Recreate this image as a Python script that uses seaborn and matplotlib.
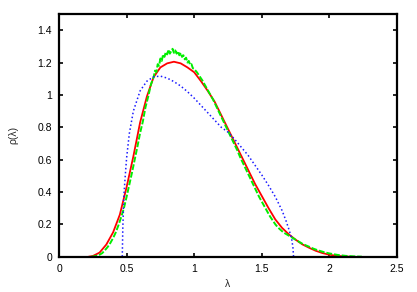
import numpy as np
import pandas as pd
import matplotlib
matplotlib.use("Agg")
import matplotlib.pyplot as plt
import seaborn as sns

# ---- data ----
red_x = [0.22, 0.25, 0.30, 0.35, 0.40, 0.45, 0.50, 0.55, 0.60, 0.65, 0.70, 0.75,
         0.80, 0.85, 0.90, 0.95, 1.00, 1.05, 1.10, 1.15, 1.20, 1.25, 1.30, 1.35,
         1.40, 1.45, 1.50, 1.55, 1.60, 1.65, 1.70, 1.75, 1.80, 1.85, 1.90, 1.95,
         2.00, 2.05, 2.10, 2.15]
red_y = [0.0, 0.004, 0.025, 0.075, 0.15, 0.26, 0.43, 0.62, 0.83, 0.99, 1.11, 1.17,
         1.195, 1.205, 1.195, 1.17, 1.14, 1.085, 1.025, 0.96, 0.875, 0.79, 0.705, 0.62,
         0.535, 0.45, 0.375, 0.30, 0.23, 0.178, 0.138, 0.105, 0.076, 0.055, 0.036, 0.022,
         0.012, 0.006, 0.002, 0.0]

green_x = [0.24, 0.26, 0.28, 0.30, 0.32, 0.34, 0.36, 0.38, 0.40, 0.42, 0.44, 0.46,
           0.48, 0.50, 0.52, 0.54, 0.56, 0.58, 0.60, 0.62, 0.64, 0.66, 0.68, 0.70,
           0.71, 0.72, 0.73, 0.74, 0.75, 0.76, 0.77, 0.78, 0.79, 0.80, 0.81, 0.82,
           0.83, 0.84, 0.85, 0.86, 0.87, 0.88, 0.89, 0.90, 0.91, 0.92, 0.93, 0.94,
           0.95, 0.96, 0.97, 0.98, 0.99, 1.00, 1.02, 1.04, 1.06, 1.08, 1.10, 1.12,
           1.14, 1.16, 1.18, 1.20, 1.22, 1.24, 1.26, 1.28, 1.30, 1.32, 1.34, 1.36,
           1.38, 1.40, 1.42, 1.44, 1.46, 1.48, 1.50, 1.52, 1.54, 1.56, 1.58, 1.60,
           1.62, 1.64, 1.66, 1.68, 1.70, 1.72, 1.74, 1.76, 1.78, 1.80, 1.82, 1.84,
           1.86, 1.88, 1.90, 1.92, 1.94, 1.96, 1.98, 2.00, 2.02, 2.04, 2.06, 2.08,
           2.10, 2.12, 2.14, 2.16, 2.18, 2.20, 2.22, 2.24]
green_y = [0.0, 0.002, 0.006, 0.012, 0.022, 0.04, 0.06, 0.085, 0.115, 0.15, 0.195, 0.245,
           0.30, 0.37, 0.445, 0.52, 0.60, 0.68, 0.765, 0.835, 0.925, 0.99, 1.065, 1.11,
           1.15, 1.14, 1.19, 1.18, 1.225, 1.21, 1.25, 1.235, 1.265, 1.25, 1.28, 1.255,
           1.27, 1.285, 1.26, 1.275, 1.255, 1.27, 1.245, 1.26, 1.235, 1.245, 1.22, 1.23,
           1.20, 1.21, 1.185, 1.19, 1.165, 1.16, 1.14, 1.115, 1.09, 1.06, 1.03, 1.0,
           0.97, 0.935, 0.90, 0.865, 0.83, 0.795, 0.76, 0.725, 0.69, 0.655, 0.615, 0.58,
           0.545, 0.51, 0.475, 0.44, 0.405, 0.37, 0.34, 0.31, 0.28, 0.25, 0.225, 0.20,
           0.18, 0.165, 0.15, 0.14, 0.13, 0.12, 0.11, 0.10, 0.09, 0.08, 0.072, 0.065,
           0.058, 0.05, 0.044, 0.038, 0.033, 0.028, 0.024, 0.02, 0.017, 0.014, 0.011, 0.009,
           0.007, 0.005, 0.004, 0.003, 0.002, 0.001, 0.0005, 0.0]

blue_x = [0.468, 0.472, 0.48, 0.49, 0.50, 0.52, 0.55, 0.60, 0.65, 0.70, 0.75, 0.80,
          0.85, 0.90, 0.95, 1.00, 1.05, 1.10, 1.15, 1.20, 1.25, 1.30, 1.35, 1.40,
          1.45, 1.50, 1.55, 1.60, 1.65, 1.68, 1.70, 1.72, 1.73, 1.735]
blue_y = [0.0, 0.18, 0.38, 0.50, 0.61, 0.76, 0.90, 1.025, 1.085, 1.112, 1.116, 1.104,
          1.082, 1.055, 1.02, 0.98, 0.935, 0.89, 0.845, 0.80, 0.77, 0.725, 0.675, 0.625,
          0.565, 0.505, 0.44, 0.37, 0.285, 0.22, 0.17, 0.115, 0.06, 0.0]

xticks = [0, 0.5, 1, 1.5, 2, 2.5]
xtick_labels = ["0", "0.5", "1", "1.5", "2", "2.5"]
yticks = [0, 0.2, 0.4, 0.6, 0.8, 1, 1.2, 1.4]
ytick_labels = ["0", "0.2", "0.4", "0.6", "0.8", "1", "1.2", "1.4"]

# ---- plotting ----
sns.set_style("ticks")
plt.rcParams["font.family"] = ["Liberation Sans", "DejaVu Sans"]
plt.rcParams["font.size"] = 7.5

fig = plt.figure(figsize=(4.17, 2.92), dpi=100)
ax = fig.add_axes([0.1415, 0.121, 0.8105, 0.831])

red_df = pd.DataFrame({"x": red_x, "y": red_y})
green_df = pd.DataFrame({"x": green_x, "y": green_y})
blue_df = pd.DataFrame({"x": blue_x, "y": blue_y})

sns.lineplot(data=red_df, x="x", y="y", ax=ax, color="#ff0000", linewidth=1.3,
             sort=False, estimator=None)
sns.lineplot(data=green_df, x="x", y="y", ax=ax, color="#00ee00", linewidth=1.4,
             sort=False, estimator=None, linestyle=(0, (3, 1)))
sns.lineplot(data=blue_df, x="x", y="y", ax=ax, color="#1a1aff", linewidth=1.1,
             sort=False, estimator=None, linestyle=(0, (1, 1.6)))

ax.set_xlim(0, 2.5)
ax.set_ylim(0, 1.5)
ax.set_xticks(xticks)
ax.set_xticklabels(xtick_labels)
ax.set_yticks(yticks)
ax.set_yticklabels(ytick_labels)
ax.tick_params(direction="in", top=True, right=True, length=3, width=1.2,
               labelsize=7.5, pad=5, colors="black")
for sp in ax.spines.values():
    sp.set_visible(True)
    sp.set_linewidth(1.6)
    sp.set_color("black")
ax.set_xlabel("λ", fontsize=7.5, labelpad=4)
ax.set_ylabel("ρ(λ)", fontsize=7.5, labelpad=14)

fig.savefig("out.png", dpi=100)
